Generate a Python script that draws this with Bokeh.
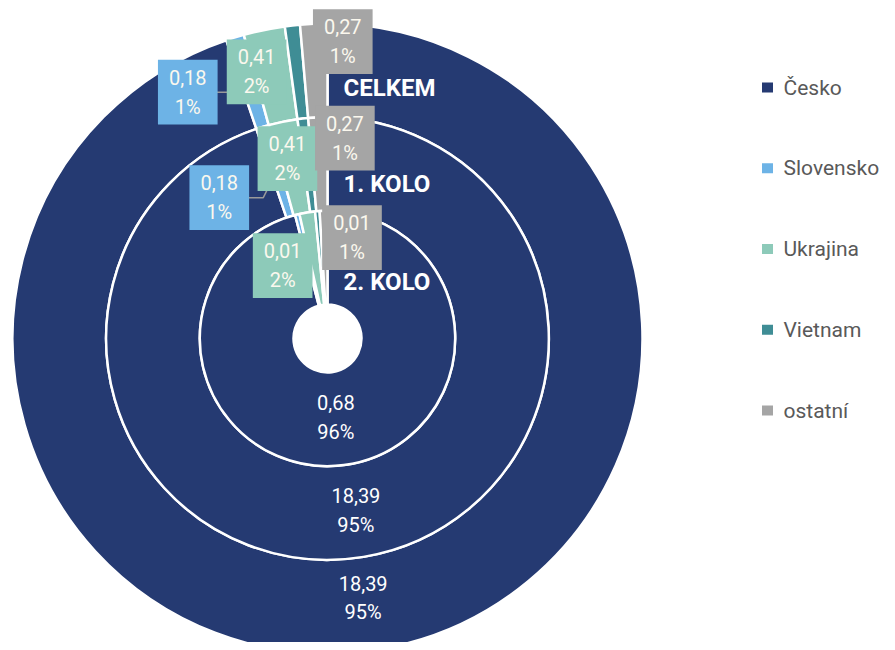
import math
from bokeh.plotting import figure
from bokeh.models import Range1d, ColumnDataSource
from bokeh.core.properties import value
from bokeh.embed import file_html
from bokeh.resources import INLINE

# ---------------- data ----------------
categories = ["Česko", "Slovensko", "Ukrajina", "Vietnam", "ostatní"]
colors = ["#253A72", "#6DB3E6", "#8DCAB9", "#3F8D95", "#A5A5A5"]
rings = ["CELKEM", "1. KOLO", "2. KOLO"]
celkem = [18.39, 0.18, 0.41, 0.15, 0.27]
kolo1 = [18.39, 0.18, 0.41, 0.15, 0.27]
kolo2 = [0.68, 0.004, 0.014, 0.004, 0.007]
# which slices carry a data label (as in the original)
labelled_celkem = [True, True, True, False, True]
labelled_kolo1 = [True, True, True, False, True]
labelled_kolo2 = [True, False, True, False, True]

ring_values = [celkem, kolo1, kolo2]
ring_labelled = [labelled_celkem, labelled_kolo1, labelled_kolo2]

# ---------------- layout ----------------
W, H = 887, 642
CX, CY = 327, 312          # centre of the donut (data units == pixels)
HOLE, R_OUT = 34, 315
RW = (R_OUT - HOLE) / 3.0

# manual nudges of data labels (pixels, +x right, +y down), per ring / slice
label_nudge = [
    [(-8, -5), (-61, 10), (-17, -4), (0, 0), (27, -29)],
    [(0, 0), (-57, 26), (-5, -9), (0, 0), (25, -26)],
    [(-2, -1), (0, 0), (-32, 7), (0, 0), (27, -20)],
]
title_drop = [64, 67, 71]

p = figure(width=W, height=H, x_range=Range1d(0, W), y_range=Range1d(650 - H, 650),
           x_axis_type=None, y_axis_type=None, output_backend="svg",
           toolbar_location=None, min_border=0)
p.grid.visible = False
p.outline_line_color = None
p.background_fill_color = "white"
p.border_fill_color = "white"


def fmt_num(v):
    return f"{v:.2f}".replace(".", ",")


main_lbl = dict(x=[], y=[], text=[])
small_lbl = dict(x=[], y=[], text=[], color=[])
leader_xs, leader_ys = [], []

for ri, vals in enumerate(ring_values):
    r_outer = R_OUT - ri * RW
    r_inner = r_outer - RW
    r_mid = (r_outer + r_inner) / 2
    total = sum(vals)
    starts, ends = [], []
    cum = 0.0
    for v in vals:
        a0 = cum / total * 2 * math.pi
        cum += v
        a1 = cum / total * 2 * math.pi
        starts.append(math.pi / 2 - a1)
        ends.append(math.pi / 2 - a0)
        mid = (a0 + a1) / 2
        ax = CX + r_mid * math.sin(mid)
        ay = CY + r_mid * math.cos(mid)
        i = len(starts) - 1
        if ring_labelled[ri][i]:
            dx, dy = label_nudge[ri][i]
            lx, ly = ax + dx, ay - dy
            txt = f"{fmt_num(v)}\n{round(v / total * 100):d}%"
            if i == 0:
                main_lbl["x"].append(lx); main_lbl["y"].append(ly); main_lbl["text"].append(txt)
            else:
                small_lbl["x"].append(lx); small_lbl["y"].append(ly)
                small_lbl["text"].append(txt); small_lbl["color"].append(colors[i])
                if categories[i] == "Slovensko":
                    bx = lx + 29
                    leader_xs.append([bx, bx + 15, ax])
                    leader_ys.append([ly, ly, ay])
    src = ColumnDataSource(dict(start=starts, end=ends, color=colors, cat=categories))
    p.annular_wedge(x=CX, y=CY, inner_radius=r_inner, outer_radius=r_outer,
                    start_angle="start", end_angle="end", direction="anticlock",
                    fill_color="color", line_color="white", line_width=2.5, source=src)
    # ring title
    p.text(x=[CX + 16], y=[CY + r_outer - title_drop[ri]], text=[rings[ri]],
           text_color="white", text_font=value("Roboto"), text_font_style="bold",
           text_font_size="24px", text_align="left", text_baseline="middle")

p.multi_line(xs=leader_xs, ys=leader_ys, line_color="#9A9A9A", line_width=1.5)

p.text(x="x", y="y", text="text", source=ColumnDataSource(main_lbl),
       text_color="white", text_font=value("Roboto"), text_font_size="20px",
       text_align="center", text_baseline="middle", text_line_height=1.2)

p.text(x="x", y="y", text="text", source=ColumnDataSource(small_lbl),
       text_color="#FBF8EE", text_font=value("Roboto"), text_font_size="20px",
       text_align="center", text_baseline="middle", text_line_height=1.2,
       background_fill_color="color", padding=(11, 11, 6, 6))

# legend
leg_y = [563 - 80.75 * i for i in range(len(categories))]
p.rect(x=[767] * len(categories), y=leg_y, width=11, height=10,
       width_units="screen", height_units="screen", fill_color=colors, line_color=None)
p.text(x=[783] * len(categories), y=leg_y, text=categories, text_color="#595959",
       text_font=value("Roboto"), text_font_size="21px", text_align="left",
       text_baseline="middle")

open("out.html", "w").write(file_html(p, INLINE))
